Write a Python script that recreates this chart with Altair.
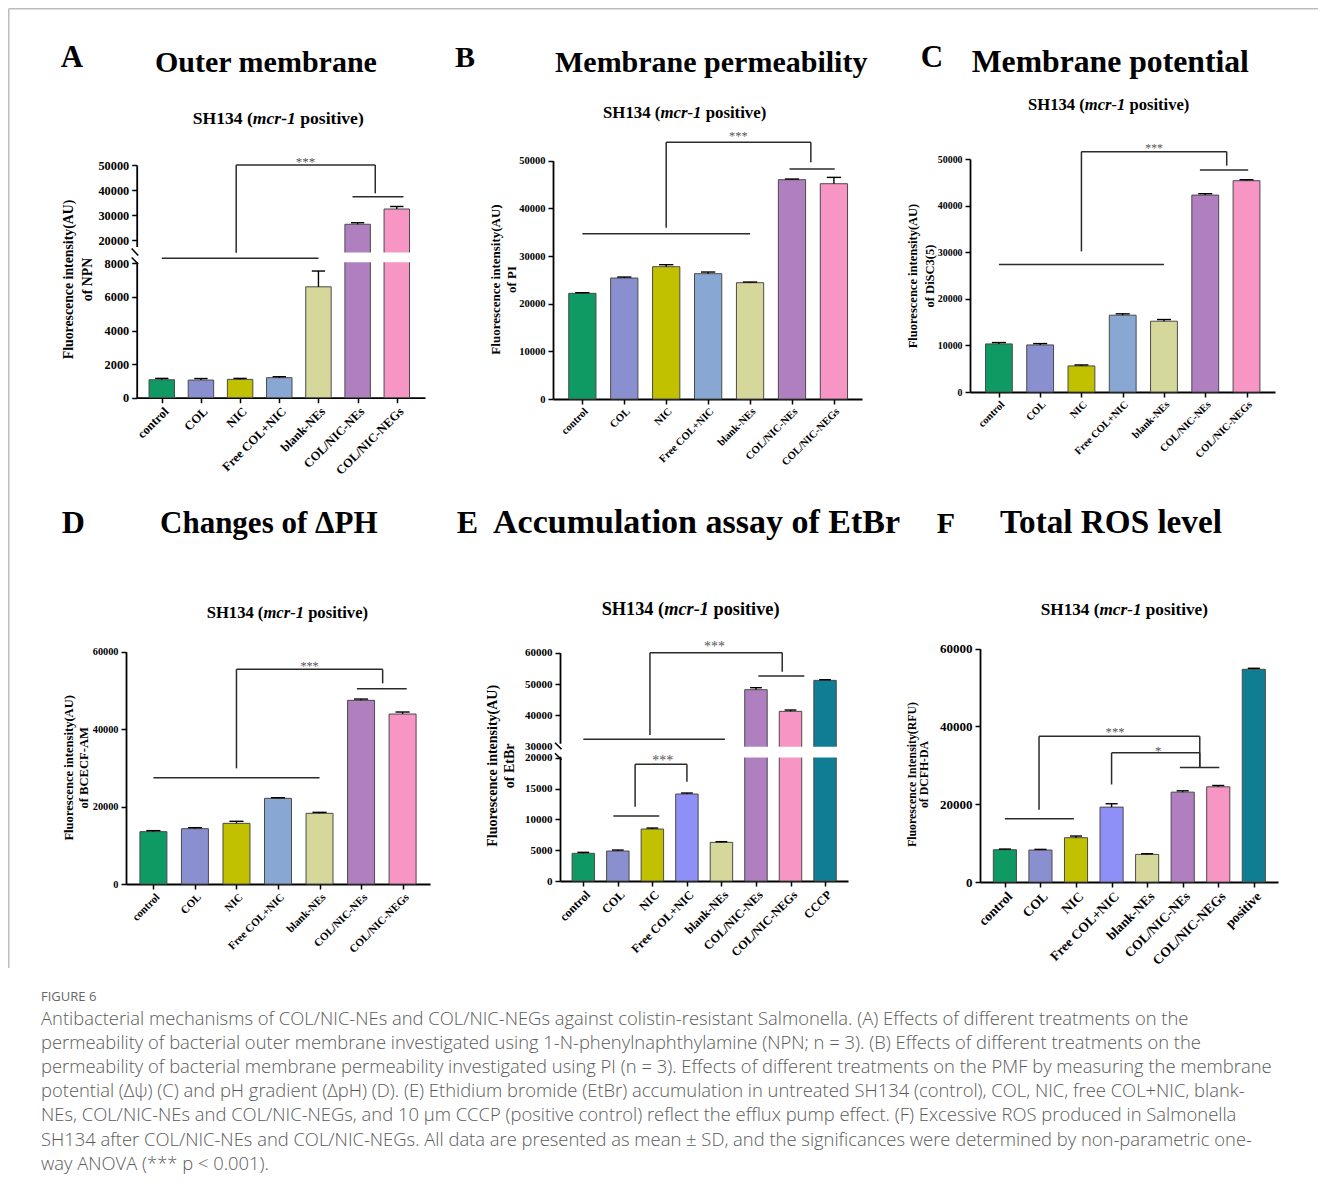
import altair as alt
import pandas as pd

SERIF = "Liberation Serif"

# ---------------- data ----------------
CATS7 = ["control", "COL", "NIC", "Free COL+NIC", "blank-NEs", "COL/NIC-NEs", "COL/NIC-NEGs"]
CATS_E = CATS7 + ["CCCP"]
CATS_F = CATS7 + ["positive"]

A_VAL = [1070, 1050, 1090, 1190, 6600, 26300, 32400]
A_ERR = [80, 90, 60, 60, 940, 600, 1000]
B_VAL = [22170, 25380, 27760, 26290, 24400, 46010, 45170]
B_ERR = [140, 210, 420, 350, 140, 140, 1330]
C_VAL = [10320, 10100, 5590, 16480, 15190, 42260, 45340]
C_ERR = [290, 290, 215, 290, 360, 290, 215]
D_VAL = [13520, 14290, 15670, 22120, 18250, 47430, 43900]
D_ERR = [260, 260, 520, 170, 260, 340, 520]
E_VAL = [4490, 4860, 8430, 14110, 6270, 48190, 41280, 51170]
E_ERR = [160, 160, 160, 160, 110, 640, 430, 210]
F_VAL = [8300, 8220, 11390, 19260, 7100, 23110, 24480, 54700]
F_ERR = [170, 170, 430, 860, 170, 340, 340, 260]

# significance annotations (category-index units, data values)
# group lines: (from, to, level); brackets: (left, right, top, left_end, right_end); stars: (x, y, label)
A_GROUPS = [(0, 4, 11240), (4.87, 6.17, 37320)]
A_BRACKETS = [(1.9, 5.45, 50000, 14900, 38680)]
A_STARS = [(3.67, 52300, "***")]
B_GROUPS = [(0, 4, 34690), (4.94, 6.02, 48250)]
B_BRACKETS = [(2, 5.45, 53850, 35940, 49650)]
B_STARS = [(3.72, 55870, "***")]
C_GROUPS = [(0, 4, 27360), (4.87, 6.04, 47640)]
C_BRACKETS = [(2, 5.52, 51580, 30160, 48570)]
C_STARS = [(3.76, 53080, "***")]
D_GROUPS = [(0, 4, 27460), (4.9, 6.1, 50440)]
D_BRACKETS = [(2, 5.52, 55440, 29870, 51820)]
D_STARS = [(3.76, 56990, "***")]
E_GROUPS = [(0, 4.1, 32340), (5.07, 6.4, 52550), (0.87, 2.2, 10540)]
E_BRACKETS = [(1.93, 5.76, 60000, 33720, 53940), (1.5, 3.0, 18920, 12050, 16110)]
E_STARS = [(3.8, 62770, "***"), (2.3, 20000, "***")]
F_GROUPS = [(0, 1.94, 16270), (4.92, 6.03, 29450)]
F_BRACKETS = [(0.96, 5.48, 37500, 18580, 29450), (3.0, 5.48, 33220, 25080, 29450)]
F_STARS = [(3.1, 39470, "***"), (4.31, 34420, "*")]

CAPTION_LINES = [
    "Antibacterial mechanisms of COL/NIC-NEs and COL/NIC-NEGs against colistin-resistant Salmonella. (A) Effects of different treatments on the",
    "permeability of bacterial outer membrane investigated using 1-N-phenylnaphthylamine (NPN; n = 3). (B) Effects of different treatments on the",
    "permeability of bacterial membrane permeability investigated using PI (n = 3). Effects of different treatments on the PMF by measuring the membrane",
    "potential (\u0394\u03c8) (C) and pH gradient (\u0394pH) (D). (E) Ethidium bromide (EtBr) accumulation in untreated SH134 (control), COL, NIC, free COL+NIC, blank-",
    "NEs, COL/NIC-NEs and COL/NIC-NEGs, and 10 \u03bcm CCCP (positive control) reflect the efflux pump effect. (F) Excessive ROS produced in Salmonella",
    "SH134 after COL/NIC-NEs and COL/NIC-NEGs. All data are presented as mean \u00b1 SD, and the significances were determined by non-parametric one-",
    "way ANOVA (*** p < 0.001).",
]

# ---------------- styles ----------------
PAL7 = ["#0f9a63", "#8a8fcf", "#c2c100", "#88a8d3", "#d6d89b", "#b07fc0", "#f796c5"]
PAL_E = ["#0f9a63", "#8a8fcf", "#c2c100", "#8f8ff8", "#d6d89b", "#b07fc0", "#f796c5", "#0f7e95"]
PAL_F = PAL_E

TB = {' ': 250, '(': 333, ')': 333, '-': 333, '1': 500, '3': 500, '4': 500, 'S': 556, 'H': 778,
      'e': 444, 'i': 278, 'o': 500, 'p': 556, 's': 389, 't': 333, 'v': 500}
TBI = {'m': 778, 'c': 444, 'r': 389, '-': 333, '1': 500}

OFF = 8          # page margin: chart coordinates = page coordinates - OFF
W, H = 1310, 1170


def c(v):
    return v - OFF


def wid(s, table):
    return sum(table[ch] for ch in s) / 1000.0


ONE = pd.DataFrame({"a": [0]})


def text_mark(txt, x, y, fs, weight="bold", style="normal", color="black", font=SERIF, align="left"):
    return alt.Chart(ONE).mark_text(
        text=txt, font=font, fontSize=fs, fontWeight=weight, fontStyle=style,
        color=color, align=align, baseline="alphabetic"
    ).encode(x=alt.value(c(x)), y=alt.value(c(y)))


def subtitle(x, y, fs):
    p1, p2, p3 = "SH134 (", "mcr-1", "positive)"
    w1 = wid(p1, TB) * fs
    w2 = wid(p2, TBI) * fs
    ws = wid(" ", TB) * fs
    return [
        text_mark(p1, x, y, fs),
        text_mark(p2, x + w1, y, fs, style="italic"),
        text_mark(p3, x + w1 + w2 + ws, y, fs),
    ]


def panel_layers(cats, vals, errs, colors, groups, brackets, stars, cfg):
    n = len(cats)
    df = pd.DataFrame({"cat": cats, "idx": list(range(n)), "val": vals, "err": errs, "fill": colors})
    x0, x1 = cfg["xr"]
    xs = alt.Scale(domain=[-cfg["padl"], n - 1 + cfg["padr"]], range=[c(x0), c(x1)],
                   nice=False, zero=False)
    ys = alt.Scale(domain=cfg["ydom"], range=[c(v) for v in cfg["yr"]], nice=False, zero=False)
    lab = "[" + ",".join("'%s'" % k for k in cats) + "][datum.value]"
    xaxis = alt.Axis(
        orient="bottom", offset=c(cfg["yr"][0]) - H,
        values=list(range(n)), labelExpr=lab, labelAngle=-45, labelAlign="right", labelBaseline="top",
        labelFont=SERIF, labelFontWeight="bold", labelFontSize=cfg["xfs"], labelColor="black",
        labelPadding=2, labelLimit=400, labelOverlap=False, labelFlush=False,
        tickSize=5, tickWidth=1.5, tickColor="black", domainColor="black", domainWidth=1.8,
        grid=False, title=None, zindex=0)
    yaxis = alt.Axis(
        orient="left", offset=-c(x0),
        values=cfg["yticks"], format="d", labelFont=SERIF, labelFontWeight="bold",
        labelFontSize=cfg["yfs"], labelColor="black", labelPadding=3, labelOverlap=False,
        labelFlush=False, tickSize=5, tickWidth=1.5, tickColor="black", domainColor="black",
        domainWidth=1.8, grid=False, title=cfg["ytitle"], titleFont=SERIF, titleFontWeight="bold",
        titleFontSize=cfg["tfs"], titleColor="black", titleLineHeight=cfg["tlh"],
        titleX=cfg["tx"], titleY=c(cfg["ty"]), titleAngle=270, titleAlign="center",
        titleBaseline="alphabetic", zindex=0)

    def X(f, ax=None):
        return alt.X(f, scale=xs, axis=ax)

    def Y(f, ax=None):
        return alt.Y(f, scale=ys, axis=ax)

    base = alt.Chart(df).transform_calculate(
        lo="datum.idx - 0.325", hi="datum.idx + 0.325", top="datum.val + datum.err",
        cl="datum.idx - 0.17", cr="datum.idx + 0.17", zero="0")
    bars = base.mark_rect(stroke="#4a4a4a", strokeWidth=1).encode(
        x=X("lo:Q", xaxis), x2="hi:Q", y=Y("val:Q", yaxis), y2="zero:Q",
        color=alt.Color("fill:N", scale=None))
    whisk = base.mark_rule(color="black", strokeWidth=1.4).encode(
        x=X("idx:Q"), y=Y("val:Q"), y2="top:Q")
    caps = base.mark_rule(color="black", strokeWidth=1.4).encode(
        x=X("cl:Q"), x2="cr:Q", y=Y("top:Q"))

    layers = [bars, whisk, caps]

    if "gap" in cfg:
        g = cfg["gap"]
        layers.append(alt.Chart(ONE).mark_rect(color="white").encode(
            x=alt.value(c(x0 - 5)), x2=alt.value(c(x0 + 2)), y=alt.value(c(g[0])), y2=alt.value(c(g[1]))))
        layers.append(alt.Chart(ONE).mark_rect(color="white").encode(
            x=alt.value(c(x0 + 2)), x2=alt.value(c(x1)), y=alt.value(c(g[2])), y2=alt.value(c(g[3]))))
        for (ya, yb) in cfg["slashes"]:
            layers.append(alt.Chart(ONE).mark_rule(color="black", strokeWidth=1.6).encode(
                x=alt.value(c(x0 - 5)), x2=alt.value(c(x0 + 1.5)), y=alt.value(c(ya)), y2=alt.value(c(yb))))

    seg = []
    for a, b, lvl in groups:
        seg.append(dict(sx=a, sx2=b, sy=lvl, sy2=lvl))
    for l, r, t, le, re in brackets:
        seg.append(dict(sx=l, sx2=r, sy=t, sy2=t))
        seg.append(dict(sx=l, sx2=l, sy=t, sy2=le))
        seg.append(dict(sx=r, sx2=r, sy=t, sy2=re))
    lines = alt.Chart(pd.DataFrame(seg)).mark_rule(color="#2b2b2b", strokeWidth=1.5).encode(
        x=X("sx:Q"), x2="sx2:Q", y=Y("sy:Q"), y2="sy2:Q")
    layers.append(lines)
    st = alt.Chart(pd.DataFrame(stars, columns=["tx", "ty", "t"])).mark_text(
        font=SERIF, fontSize=cfg["sfs"], color="#555555", baseline="middle", dy=3).encode(
        x=X("tx:Q"), y=Y("ty:Q"), text="t:N")
    layers.append(st)

    lx, ly, lfs = cfg["letter"]
    layers.append(text_mark(cfg["letter_text"], lx, ly, lfs))
    tx, ty, tfs = cfg["title"]
    layers.append(text_mark(cfg["title_text"], tx, ty, tfs))
    sx, sy, sfs = cfg["sub"]
    layers += subtitle(sx, sy, sfs)
    return layers


YT = "Fluorescence intensity(AU)"

# all positions below are page pixels
CFG_A = dict(xr=(136.7, 425), yr=[397.7, 263.3, 252.5, 165], ydom=[0, 8000, 15000, 50000],
             padl=0.64, padr=0.72, yticks=[0, 2000, 4000, 6000, 8000, 20000, 30000, 40000, 50000],
             yfs=12.3, xfs=12.5, ytitle=[YT, "of  NPN"], tfs=13.8, tlh=18.7, tx=-64.1, ty=279,
             sfs=13, gap=(247, 262, 252.5, 262.3), slashes=[(248.5, 255.5), (257.5, 264)],
             letter=(60.7, 67.3, 31), letter_text="A",
             title=(155, 72.3, 30), title_text="Outer membrane", sub=(192.7, 124.3, 17.6))
CFG_B = dict(xr=(553, 862), yr=[399, 160.7], ydom=[0, 50000], padl=0.70, padr=0.67,
             yticks=[0, 10000, 20000, 30000, 40000, 50000], yfs=10.5, xfs=10.7,
             ytitle=[YT, "of  PI"], tfs=13, tlh=16, tx=-53.7, ty=279, sfs=12.4,
             letter=(455, 66.7, 30), letter_text="B",
             title=(555, 71.7, 30), title_text="Membrane permeability", sub=(603, 118.3, 16.8))
CFG_C = dict(xr=(970, 1275), yr=[392, 159], ydom=[0, 50000], padl=0.70, padr=0.69,
             yticks=[0, 10000, 20000, 30000, 40000, 50000], yfs=9.9, xfs=10.5,
             ytitle=[YT, "of  DiSC3(5)"], tfs=12.5, tlh=16.3, tx=-53.2, ty=275.5, sfs=11.8,
             letter=(920.7, 67.3, 31), letter_text="C",
             title=(971.7, 71.7, 31.7), title_text="Membrane potential", sub=(1028, 110, 16.6))
CFG_D = dict(xr=(126, 430), yr=[884, 651.7], ydom=[0, 60000], padl=0.66, padr=0.66,
             yticks=[0, 20000, 40000, 60000], yfs=10.3, xfs=11,
             ytitle=[YT, "of  BCECF-AM"], tfs=12.6, tlh=15, tx=-53.8, ty=767.3, sfs=12.2,
             letter=(61.7, 533, 32), letter_text="D",
             title=(160, 533.3, 31), title_text="Changes of \u0394PH", sub=(206.7, 618.3, 16.6))
CFG_E = dict(xr=(560, 848), yr=[881, 757.7, 746.7, 652.7], ydom=[0, 20000, 30000, 60000],
             padl=0.675, padr=0.665,
             yticks=[0, 5000, 10000, 15000, 20000, 30000, 40000, 50000, 60000], yfs=11, xfs=12.2,
             ytitle=[YT, "of  EtBr"], tfs=14, tlh=17.3, tx=-63.7, ty=765.3, sfs=14,
             gap=(743.7, 756.7, 746.7, 757.4), slashes=[(742.7, 749.2), (753.2, 759.7)],
             letter=(456.7, 533.3, 32), letter_text="E",
             title=(493, 533.3, 34), title_text="Accumulation assay of EtBr", sub=(601.7, 615, 18.3))
CFG_F = dict(xr=(980, 1278), yr=[882, 648.7], ydom=[0, 60000], padl=0.70, padr=0.68,
             yticks=[0, 20000, 40000, 60000], yfs=13, xfs=13.5,
             ytitle=["Fluorescence Intensity(RFU)", "of DCFH-DA"], tfs=11.8, tlh=12.3, tx=-64.4,
             ty=774, sfs=12.7,
             letter=(936.7, 533, 30), letter_text="F",
             title=(1000, 533.3, 33.2), title_text="Total ROS level", sub=(1040.7, 615, 17.2))

layers = []
layers += panel_layers(CATS7, A_VAL, A_ERR, PAL7, A_GROUPS, A_BRACKETS, A_STARS, CFG_A)
layers += panel_layers(CATS7, B_VAL, B_ERR, PAL7, B_GROUPS, B_BRACKETS, B_STARS, CFG_B)
layers += panel_layers(CATS7, C_VAL, C_ERR, PAL7, C_GROUPS, C_BRACKETS, C_STARS, CFG_C)
layers += panel_layers(CATS7, D_VAL, D_ERR, PAL7, D_GROUPS, D_BRACKETS, D_STARS, CFG_D)
layers += panel_layers(CATS_E, E_VAL, E_ERR, PAL_E, E_GROUPS, E_BRACKETS, E_STARS, CFG_E)
layers += panel_layers(CATS_F, F_VAL, F_ERR, PAL_F, F_GROUPS, F_BRACKETS, F_STARS, CFG_F)

# frame and caption
layers.append(alt.Chart(ONE).mark_rule(color="#bdbdbd", strokeWidth=1.5).encode(
    x=alt.value(c(8.75)), x2=alt.value(c(1318)), y=alt.value(c(8.75)), y2=alt.value(c(8.75))))
layers.append(alt.Chart(ONE).mark_rule(color="#bdbdbd", strokeWidth=1.5).encode(
    x=alt.value(c(8.75)), x2=alt.value(c(8.75)), y=alt.value(c(8.75)), y2=alt.value(c(968))))
layers.append(alt.Chart(ONE).mark_text(
    text="FIGURE 6", font="Open Sans", fontSize=13, color="#666666", align="left",
    baseline="alphabetic").encode(x=alt.value(c(41)), y=alt.value(c(1001))))
layers.append(alt.Chart(ONE).mark_text(
    text=CAPTION_LINES, font="Open Sans", fontSize=18.4, fontWeight=300, color="#5a5a5a",
    align="left", baseline="alphabetic", lineHeight=24.1).encode(
    x=alt.value(c(41)), y=alt.value(c(1025))))

chart = alt.layer(*layers).resolve_scale(x="independent", y="independent").properties(
    width=W, height=H, padding=0, background="white").configure_view(stroke=None)

chart.save("out.html", embed_options={"renderer": "svg", "actions": False})
